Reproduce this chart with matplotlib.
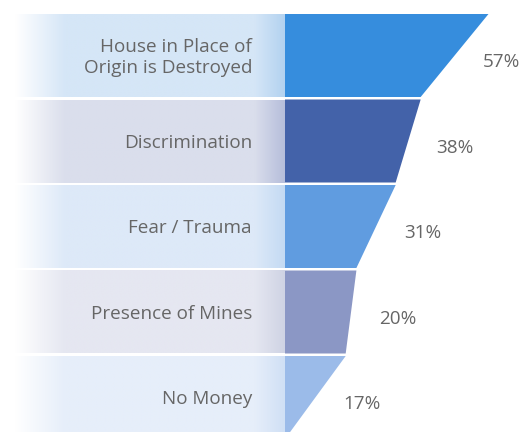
import numpy as np
import matplotlib
matplotlib.use("Agg")
import matplotlib.pyplot as plt
from matplotlib.patches import Polygon
from matplotlib.colors import to_rgb

# data
categories = ["House in Place of\nOrigin is Destroyed", "Discrimination",
              "Fear / Trauma", "Presence of Mines", "No Money"]
values = [57, 38, 31, 20, 17]
labels = ["57%", "38%", "31%", "20%", "17%"]

# styles
bar_colors = ["#368ddd", "#4362a9", "#609ce0", "#8b97c5", "#9bbbe9"]
box_colors = ["#d5e6f7", "#dadeec", "#dde9f8", "#e5e7f1", "#e6eefa"]
box_edge = ["#b3d2f0", "#b6bedb", "#c4daf3", "#cfd3e4", "#d0e0f5"]

plt.rcParams["font.family"] = ["Open Sans", "DejaVu Sans"]

W, H = 523, 432
px = 3.57          # pixels per percent
pitch = 85.5       # pixels per row
x0 = 285           # pixel position of funnel left edge
y0 = 14            # pixel position of first row top

fig = plt.figure(figsize=(W / 100, H / 100), dpi=100)
ax = fig.add_axes([0, 0, 1, 1])
ax.axis("off")

h = 83 / pitch
box_left = (15 - x0) / px
n = len(values)
vals_next = values[1:] + [0]

for i in range(n):
    # label box with horizontal gradient
    xs = np.linspace(box_left, 0, 300)
    base = np.array(to_rgb(box_colors[i]))
    edge = np.array(to_rgb(box_edge[i]))
    white = np.array([1.0, 1.0, 1.0])
    lr = (65 - 15) / px
    rr = 30 / px
    img = np.zeros((1, len(xs), 3))
    for k, x in enumerate(xs):
        if x < box_left + lr:
            t = (x - box_left) / lr
            c = white * (1 - t) + base * t
        elif x > -rr:
            t = (x + rr) / rr
            c = base * (1 - t) + edge * t
        else:
            c = base
        img[0, k] = c
    ax.imshow(img, extent=(box_left, 0, i + h, i), aspect="auto",
              interpolation="bilinear", zorder=1)

    ax.text((252 - x0) / px, i + h / 2 + 0.02, categories[i], ha="right", va="center",
            fontsize=13.6, color="#666666", linespacing=1.22, zorder=3)

    # funnel segment
    poly = Polygon([(0, i), (values[i], i), (vals_next[i], i + h), (0, i + h)],
                   closed=True, facecolor=bar_colors[i], edgecolor="none", zorder=2)
    ax.add_patch(poly)

    mid = (values[i] + vals_next[i]) / 2
    ax.text(mid + 7.8, i + h / 2 + 0.08, labels[i], ha="left", va="center",
            fontsize=13.6, color="#666666", zorder=3)

ax.set_xlim(-x0 / px, (W - x0) / px)
ax.set_ylim((H - y0) / pitch, -y0 / pitch)

fig.savefig("out.png", dpi=100)
